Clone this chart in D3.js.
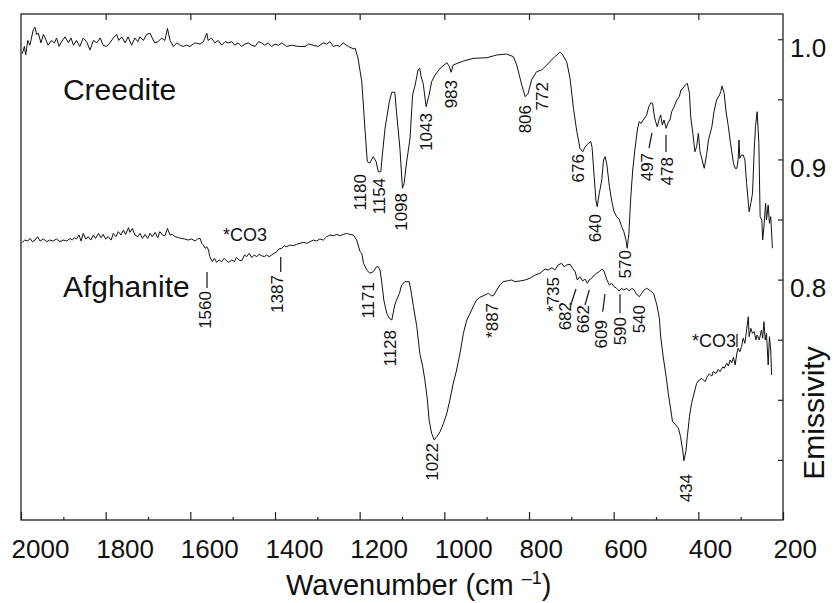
<!DOCTYPE html>
<html>
<head>
<meta charset="utf-8">
<script src="https://cdn.jsdelivr.net/npm/d3@7"></script>
<style>
body { margin: 0; background: #fff; }
svg text { font-family: "Liberation Sans", Arial, Helvetica, sans-serif; fill: #111; }
</style>
</head>
<body>
<div id="chart"></div>
<script>
// spectra: [wavenumber, emissivity]
var creedite = [
	[1997,0.988],[1992,0.994],[1989,0.987],[1984,0.999],[1979,0.995],[1971,1.008],[1967,1.010],[1963,1.004],[1959,1.005],[1953,0.997],
	[1947,1.004],[1943,1.001],[1936,0.995],[1928,0.999],[1921,0.997],[1916,1.001],[1910,0.994],[1904,0.998],[1896,1.002],[1888,0.997],
	[1882,1.001],[1876,0.995],[1869,0.999],[1861,0.994],[1853,1.001],[1845,0.998],[1837,0.991],[1829,0.999],[1821,0.997],[1813,1.001],
	[1806,0.995],[1798,0.994],[1790,0.997],[1782,1.001],[1774,1.004],[1769,0.999],[1762,1.002],[1754,0.997],[1747,1.002],[1739,0.995],
	[1731,1.001],[1724,0.998],[1719,1.002],[1711,0.999],[1703,1.004],[1695,1.005],[1690,1.001],[1684,0.997],[1676,0.998],[1668,1.001],
	[1660,0.999],[1654,1.009],[1648,0.999],[1640,0.994],[1632,0.997],[1624,0.995],[1617,0.994],[1609,0.995],[1601,0.994],[1589,0.997],
	[1577,0.996],[1569,0.998],[1561,1.005],[1558,0.999],[1550,1.001],[1542,0.997],[1534,0.999],[1526,0.995],[1518,0.998],[1510,0.997],
	[1502,0.998],[1495,0.995],[1487,0.997],[1479,0.994],[1471,0.996],[1463,0.997],[1455,0.995],[1447,0.994],[1439,0.998],[1432,0.997],
	[1424,0.995],[1416,0.997],[1408,0.994],[1400,0.996],[1392,0.995],[1384,0.997],[1373,0.994],[1361,0.995],[1345,0.994],[1329,0.994],
	[1321,0.996],[1310,0.995],[1298,0.994],[1286,0.997],[1278,0.996],[1270,0.998],[1262,0.994],[1254,0.995],[1247,0.994],[1239,0.997],
	[1227,0.994],[1215,0.992],[1211,0.9927],[1204,0.9844],[1195,0.9647],[1187,0.9231],[1182,0.8981],[1176,0.8970],[1168,0.9023],[1161,0.8981],
	[1156,0.8898],[1150,0.8898],[1148,0.8981],[1140,0.9261],[1130,0.9480],[1124,0.9559],[1117,0.9559],[1113,0.9397],[1105,0.9095],[1099,0.8760],
	[1095,0.8801],[1089,0.8981],[1081,0.9176],[1075,0.9536],[1069,0.9619],[1062,0.9744],[1058,0.9758],[1055,0.9688],[1050,0.9633],[1043,0.9439],
	[1036,0.9536],[1030,0.9647],[1022,0.9702],[1010,0.9758],[994,0.9805],[988,0.9772],[984,0.9725],[979,0.9786],[955,0.9819],[932,0.9841],
	[900,0.9846],[876,0.9869],[853,0.9877],[837,0.9855],[829,0.9786],[817,0.9619],[809,0.9522],[802,0.9550],[794,0.9661],[782,0.9730],
	[770,0.9744],[758,0.9786],[739,0.9855],[727,0.9891],[723,0.9883],[711,0.9813],[703,0.9675],[695,0.9425],[687,0.9231],[681,0.9120],
	[680,0.9093],[673,0.9064],[668,0.9101],[660,0.9134],[654,0.9148],[651,0.9101],[646,0.8856],[642,0.8662],[639,0.8607],[634,0.8718],
	[628,0.8829],[624,0.8995],[620,0.9023],[616,0.8954],[610,0.8773],[605,0.8662],[599,0.8565],[593,0.8524],[587,0.8502],[581,0.8440],
	[576,0.8399],[571,0.8330],[568,0.8261],[564,0.8385],[560,0.8662],[555,0.8912],[550,0.9078],[544,0.9245],[540,0.9314],[535,0.9301],
	[530,0.9328],[522,0.9370],[517,0.9439],[512,0.9472],[508,0.9467],[505,0.9384],[502,0.9328],[497,0.9272],[492,0.9342],[489,0.9370],
	[485,0.9286],[481,0.9328],[476,0.9259],[472,0.9301],[467,0.9328],[463,0.9397],[457,0.9439],[451,0.9494],[445,0.9522],[441,0.9578],
	[436,0.9592],[431,0.9619],[426,0.9633],[421,0.9550],[418,0.9356],[413,0.9217],[408,0.9064],[404,0.9106],[400,0.9217],[396,0.9064],
	[391,0.8995],[386,0.8926],[380,0.9051],[376,0.9162],[368,0.9272],[363,0.9397],[357,0.9494],[350,0.9536],[347,0.9564],[344,0.9611],
	[339,0.9550],[335,0.9411],[329,0.9272],[324,0.9134],[317,0.8968],[313,0.8926],[309,0.8926],[306,0.8995],[304,0.9162],[302,0.9009],
	[298,0.9037],[294,0.9037],[290,0.8995],[286,0.8801],[280,0.8565],[276,0.8635],[272,0.8718],[268,0.9078],[265,0.9272],[261,0.9397],
	[257,0.9134],[254,0.8524],[250,0.8496],[248,0.8330],[245,0.8440],[241,0.8635],[239,0.8496],[235,0.8621],[232,0.8469],[229,0.8524],
	[225,0.8261]
];

var afghanite = [
	[1997,0.8310],[1991,0.8329],[1984,0.8321],[1979,0.8343],[1973,0.8316],[1967,0.8329],[1961,0.8357],[1955,0.8321],[1947,0.8338],[1939,0.8316],
	[1932,0.8329],[1924,0.8321],[1916,0.8338],[1908,0.8316],[1900,0.8329],[1892,0.8321],[1884,0.8343],[1879,0.8329],[1874,0.8349],[1869,0.8338],
	[1863,0.8371],[1858,0.8321],[1853,0.8385],[1847,0.8338],[1841,0.8357],[1835,0.8329],[1829,0.8371],[1824,0.8343],[1817,0.8385],[1811,0.8349],
	[1806,0.8376],[1800,0.8338],[1794,0.8357],[1787,0.8329],[1782,0.8385],[1776,0.8357],[1770,0.8399],[1764,0.8371],[1758,0.8413],[1753,0.8376],
	[1746,0.8432],[1743,0.8393],[1737,0.8426],[1731,0.8371],[1724,0.8357],[1719,0.8385],[1713,0.8343],[1707,0.8376],[1701,0.8343],[1695,0.8385],
	[1690,0.8357],[1683,0.8393],[1677,0.8349],[1672,0.8399],[1666,0.8371],[1660,0.8365],[1654,0.8426],[1648,0.8371],[1643,0.8376],[1636,0.8357],
	[1628,0.8349],[1620,0.8343],[1613,0.8338],[1605,0.8329],[1597,0.8338],[1589,0.8321],[1583,0.8338],[1577,0.8343],[1573,0.8302],[1569,0.8288],
	[1565,0.8260],[1561,0.8274],[1557,0.8246],[1554,0.8191],[1548,0.8149],[1543,0.8177],[1538,0.8144],[1532,0.8163],[1526,0.8149],[1520,0.8177],
	[1514,0.8155],[1509,0.8144],[1502,0.8163],[1496,0.8149],[1491,0.8183],[1485,0.8163],[1479,0.8155],[1472,0.8205],[1467,0.8191],[1461,0.8219],
	[1455,0.8183],[1449,0.8205],[1443,0.8191],[1438,0.8210],[1432,0.8199],[1425,0.8191],[1420,0.8205],[1414,0.8191],[1408,0.8205],[1402,0.8219],
	[1396,0.8232],[1391,0.8255],[1384,0.8260],[1378,0.8282],[1372,0.8274],[1365,0.8288],[1357,0.8282],[1349,0.8293],[1341,0.8302],[1333,0.8310],
	[1325,0.8302],[1317,0.8316],[1309,0.8329],[1302,0.8321],[1294,0.8338],[1286,0.8329],[1278,0.8357],[1270,0.8371],[1262,0.8365],[1254,0.8376],
	[1246,0.8365],[1239,0.8376],[1231,0.8385],[1223,0.8376],[1215,0.8371],[1207,0.8329],[1199,0.8232],[1195,0.8219],[1191,0.8136],[1183,0.8080],
	[1176,0.8053],[1168,0.8066],[1160,0.8107],[1156,0.8107],[1152,0.8080],[1148,0.7983],[1143,0.7830],[1136,0.7720],[1130,0.7678],[1124,0.7664],
	[1121,0.7720],[1117,0.7789],[1113,0.7830],[1106,0.7886],[1101,0.7955],[1093,0.7983],[1083,0.7983],[1079,0.7914],[1073,0.7775],[1065,0.7608],
	[1058,0.7387],[1051,0.7275],[1046,0.7165],[1040,0.6998],[1036,0.6832],[1030,0.6721],[1024,0.6666],[1018,0.6693],[1010,0.6735],[1002,0.6805],
	[994,0.6888],[987,0.6998],[979,0.7137],[971,0.7248],[963,0.7387],[955,0.7553],[947,0.7664],[939,0.7720],[932,0.7775],[924,0.7830],
	[916,0.7853],[904,0.7872],[896,0.7886],[888,0.7864],[883,0.7872],[876,0.7914],[869,0.7955],[861,0.7983],[849,0.7991],[841,0.7997],
	[833,0.7983],[821,0.7989],[809,0.7997],[798,0.8011],[786,0.8038],[774,0.8053],[762,0.8088],[754,0.8080],[746,0.8099],[739,0.8080],
	[731,0.8122],[723,0.8136],[717,0.8107],[711,0.8122],[703,0.8128],[697,0.8094],[691,0.8066],[686,0.7997],[680,0.8024],[673,0.7989],
	[668,0.8005],[662,0.7969],[658,0.7997],[652,0.8011],[646,0.8038],[640,0.8053],[634,0.8066],[628,0.8088],[623,0.8072],[616,0.7997],
	[610,0.7955],[605,0.7969],[599,0.7941],[593,0.7928],[587,0.7905],[581,0.7928],[576,0.7914],[569,0.7928],[563,0.7905],[557,0.7928],
	[552,0.7914],[546,0.7878],[539,0.7858],[534,0.7886],[528,0.7914],[522,0.7928],[516,0.7914],[510,0.7899],[505,0.7878],[498,0.7789],
	[492,0.7678],[489,0.7525],[483,0.7359],[476,0.7192],[471,0.7054],[465,0.6915],[461,0.6818],[453,0.6790],[447,0.6763],[442,0.6693],
	[437,0.6582],[434,0.6493],[429,0.6582],[426,0.6693],[421,0.6859],[416,0.6971],[410,0.7054],[404,0.7137],[398,0.7165],[392,0.7179],
	[384,0.7151],[379,0.7192],[374,0.7215],[368,0.7198],[365,0.7234],[358,0.7220],[353,0.7254],[349,0.7234],[342,0.7275],[339,0.7262],
	[333,0.7304],[329,0.7281],[325,0.7331],[321,0.7309],[317,0.7354],[313,0.7290],[309,0.7387],[306,0.7429],[302,0.7400],[298,0.7442],
	[294,0.7512],[290,0.7470],[286,0.7581],[282,0.7691],[280,0.7525],[276,0.7595],[272,0.7553],[268,0.7567],[264,0.7498],[261,0.7539],
	[256,0.7498],[251,0.7581],[248,0.7512],[245,0.7650],[242,0.7498],[239,0.7553],[235,0.7290],[232,0.7525],[229,0.7414],[227,0.7206]
];

var xMajorTicks = [2000, 1800, 1600, 1400, 1200, 1000, 800, 600, 400, 200];
var xMinorTicks = [1900, 1700, 1500, 1300, 1100, 900, 700, 500, 300];
var yTicks = [0.65, 0.7, 0.75, 0.8, 0.85, 0.9, 0.95, 1.0];
var yTickLabels = [0.8, 0.9, 1.0];

// names: [text, wavenumber at left edge, emissivity at baseline]
var sampleNames = [["Creedite", 1901, 0.9494], ["Afghanite", 1901, 0.7858]];

// peak labels: [text, wavenumber, emissivity at the top end of the label]
var creeditePeaks = [
	["1180", 1199, 0.8879], ["1154", 1154, 0.8846], ["1098", 1101, 0.8721], ["1043", 1042, 0.9386],
	["983", 982, 0.9661], ["806", 809, 0.9453], ["772", 767, 0.9644], ["676", 683, 0.9045],
	["640", 644, 0.8546], ["570", 571, 0.8246], ["497", 521, 0.9054], ["478", 472, 0.9020]
];
var afghanitePeaks = [
	["1560", 1565, 0.7905], ["1387", 1393, 0.8038], ["1171", 1180, 0.7980], ["1128", 1128, 0.7581],
	["1022", 1029, 0.6641], ["*887", 887, 0.7806], ["*735", 743, 0.8022], ["682", 713, 0.7814],
	["662", 672, 0.7789], ["609", 628, 0.7664], ["590", 585, 0.7689], ["540", 538, 0.7789],
	["434", 427, 0.6383]
];
var co3Notes = [["*CO3", 1523, 0.8324], ["*CO3", 415, 0.7442]];

// short leader marks: [w1, e1, w2, e2]
var leaders = [
	[516.5, 0.9095, 509.5, 0.9220], [476.4, 0.9062, 476.4, 0.9203],
	[1560.6, 0.8063, 1560.6, 0.7930], [1386.5, 0.8188, 1386.5, 0.8063],
	[701.5, 0.7789, 689, 0.7922], [667.7, 0.7789, 657.5, 0.7914],
	[625.9, 0.7733, 620.5, 0.7880], [585, 0.7720, 585, 0.7878],
	[308.7, 0.7548, 308.7, 0.7439]
];

var width = 835, height = 603;
var padLeft = 21, padRight = 783, padTop = 14, padBottom = 520;

var xScale = d3.scaleLinear().domain([2000, 200]).range([padLeft, padRight]);
var yScale = d3.scaleLinear().domain([0.6, 1.021]).range([padBottom, padTop]);

var svg = d3.select("#chart")
	.append("svg")
	.attr("width", width)
	.attr("height", height);

// Axes
svg.append("g")
	.attr("transform", "translate(0," + padBottom + ")")
	.call(d3.axisBottom(xScale).tickValues(xMinorTicks).tickSizeInner(-3).tickSizeOuter(0).tickFormat(""));

var xAxis = svg.append("g")
	.attr("transform", "translate(0," + padBottom + ")")
	.call(d3.axisBottom(xScale).tickValues(xMajorTicks).tickSizeInner(-8).tickSizeOuter(0).tickFormat(d3.format("d")));
xAxis.selectAll("text")
	.attr("text-anchor", "start")
	.attr("x", -10)
	.attr("y", 38)
	.attr("dy", 0)
	.style("font-size", "26px");

svg.append("g")
	.attr("transform", "translate(0," + padTop + ")")
	.call(d3.axisTop(xScale).tickValues(xMajorTicks.slice(1, -1)).tickSizeInner(-6).tickSizeOuter(0).tickFormat(""));

var yAxis = svg.append("g")
	.attr("transform", "translate(" + padRight + ",0)")
	.call(d3.axisRight(yScale).tickValues(yTicks).tickSizeInner(-5).tickSizeOuter(0)
		.tickFormat(function(d) { return yTickLabels.indexOf(d) >= 0 ? d.toFixed(1) : ""; }));
yAxis.selectAll("text")
	.attr("x", 7)
	.attr("y", 17)
	.attr("dy", 0)
	.style("font-size", "26px");

svg.selectAll(".domain").remove();
svg.selectAll(".tick line").attr("stroke", "#222").attr("stroke-width", 1.2);

svg.append("rect")
	.attr("x", padLeft).attr("y", padTop)
	.attr("width", padRight - padLeft).attr("height", padBottom - padTop)
	.attr("fill", "none").attr("stroke", "#222").attr("stroke-width", 1.3);

// Spectra
var line = d3.line()
	.x(function(d) { return xScale(d[0]); })
	.y(function(d) { return yScale(d[1]); });

[creedite, afghanite].forEach(function(s) {
	svg.append("path")
		.datum(s)
		.attr("d", line)
		.attr("fill", "none")
		.attr("stroke", "#111")
		.attr("stroke-width", 1)
		.attr("stroke-linejoin", "round");
});

// Annotations
svg.selectAll(".name")
	.data(sampleNames)
	.enter()
	.append("text")
	.attr("x", function(d) { return xScale(d[1]); })
	.attr("y", function(d) { return yScale(d[2]); })
	.style("font-size", "30px")
	.text(function(d) { return d[0]; });

svg.selectAll(".peak")
	.data(creeditePeaks.concat(afghanitePeaks))
	.enter()
	.append("text")
	.attr("transform", function(d) {
		return "translate(" + xScale(d[1]) + "," + yScale(d[2]) + ") rotate(-90)";
	})
	.attr("text-anchor", "end")
	.attr("dominant-baseline", "central")
	.style("font-size", "17px")
	.text(function(d) { return d[0]; });

svg.selectAll(".co3")
	.data(co3Notes)
	.enter()
	.append("text")
	.attr("x", function(d) { return xScale(d[1]); })
	.attr("y", function(d) { return yScale(d[2]); })
	.style("font-size", "18px")
	.text(function(d) { return d[0]; });

svg.selectAll(".leader")
	.data(leaders)
	.enter()
	.append("line")
	.attr("x1", function(d) { return xScale(d[0]); })
	.attr("y1", function(d) { return yScale(d[1]); })
	.attr("x2", function(d) { return xScale(d[2]); })
	.attr("y2", function(d) { return yScale(d[3]); })
	.attr("stroke", "#111")
	.attr("stroke-width", 1.2);

// Axis titles
var xTitle = svg.append("text")
	.attr("x", 286)
	.attr("y", 595)
	.style("font-size", "29px");
xTitle.append("tspan").text("Wavenumber (cm ");
xTitle.append("tspan").attr("dy", -11).style("font-size", "18px").text("\u20131");
xTitle.append("tspan").attr("dy", 11).text(")");

svg.append("text")
	.attr("transform", "translate(813,413) rotate(-90)")
	.attr("text-anchor", "middle")
	.attr("dominant-baseline", "central")
	.style("font-size", "30px")
	.text("Emissivity");
</script>
</body>
</html>
